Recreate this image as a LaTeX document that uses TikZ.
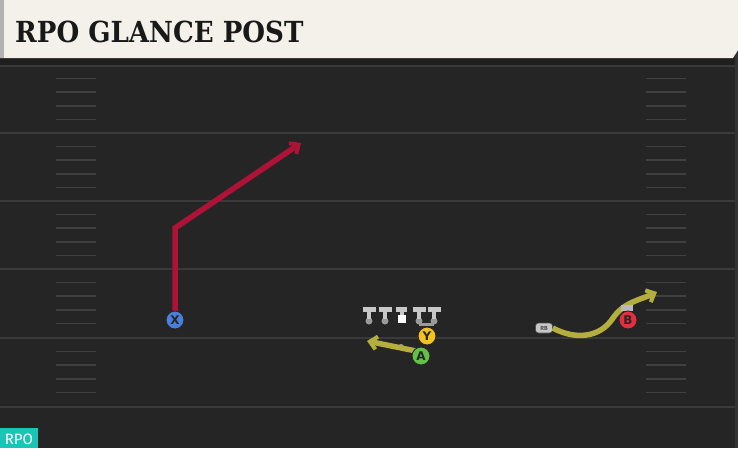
\documentclass[tikz,border=0pt]{standalone}
\usepackage{fontspec}
\usetikzlibrary{arrows.meta}
\newfontfamily\titlefont{DejaVu Serif Condensed}
\newfontfamily\labelfont{Fira Sans}
\newfontfamily\playerfont{DejaVu Sans}
\definecolor{fieldbg}{HTML}{252525}
\definecolor{yardline}{HTML}{3A3A3A}
\definecolor{hashline}{HTML}{404040}
\definecolor{cream}{HTML}{F4F1EA}
\definecolor{routered}{HTML}{AE1236}
\definecolor{routeyel}{HTML}{B3AE3E}
\definecolor{pblue}{HTML}{4A80DA}
\definecolor{pyel}{HTML}{F2C21E}
\definecolor{pgreen}{HTML}{62C144}
\definecolor{pred}{HTML}{E2303E}
\definecolor{tagteal}{HTML}{19C5B5}
\definecolor{lineman}{HTML}{C8C8C8}
\definecolor{linedark}{HTML}{9A9A9A}
\tikzset{
  x=1pt, y=-1pt,
  player/.style={circle, draw=black!85, line width=0.9pt, minimum size=18pt, inner sep=0pt,
    font=\playerfont\bfseries\fontsize{12}{12}\selectfont, text=black!85},
  route/.style={line width=5.5pt, line cap=butt, line join=miter,
    -{Straight Barb[length=7pt,width=13pt,line width=4pt]}},
  yardln/.style={draw=yardline, line width=2.5pt},
  hashln/.style={draw=hashline, line width=1.6pt},
  olbar/.style={draw=lineman, line width=5pt},
  olstem/.style={draw=lineman, line width=4pt},
  oldot/.style={circle, fill=linedark, inner sep=0pt, minimum size=7pt},
}
\begin{document}
\begin{tikzpicture}
\useasboundingbox (0,0) rectangle (738,448);
% field
\fill[fieldbg] (0,0) rectangle (738,448);
\fill[black!88] (0,58) rectangle (738,66);
\fill[black!80] (735,0) rectangle (738,448);
% yard lines
\foreach \yy in {133,201,269,338,407} {
  \draw[yardln] (0,\yy) -- (735,\yy);
}
\draw[draw=yardline, line width=1.5pt] (0,66) -- (735,66);
% hash marks
\foreach \base in {65,133,201,269,338} {
  \foreach \k in {1,2,3,4} {
    \draw[hashln] (56,{\base+13.6*\k}) -- (96,{\base+13.6*\k});
    \draw[hashln] (646,{\base+13.6*\k}) -- (686,{\base+13.6*\k});
  }
}
% header
\fill[cream] (0,0) -- (738,0) -- (738,50) -- (733,58) -- (0,58) -- cycle;
\fill[black!30] (0,0) rectangle (4,58);
\node[anchor=west, inner sep=0pt, text=black!90] (title) at (15,32)
  {\titlefont\bfseries\fontsize{29}{29}\selectfont RPO GLANCE POST};
% RPO tag
\fill[tagteal] (0,428) rectangle (38,448);
\node[text=white, inner sep=0pt] (tag) at (19,439) {\labelfont\fontsize{15}{15}\selectfont RPO};
% offensive line
\foreach \xx/\nm in {369/lt,385/lg,419/rg,434/rt} {
  \node[oldot] (\nm) at (\xx,321) {};
  \draw[olstem] (\xx,309) -- (\xx,319);
  \draw[olbar] (\xx-6.5,309.5) -- (\xx+6.5,309.5);
}
\draw[olstem] (401.5,309) -- (401.5,315);
\draw[olbar] (396,309) -- (407,309);
\node[fill=white, minimum size=8pt, inner sep=0pt] (c) at (402,319) {};
\draw[draw=linedark, line width=3pt] (rg.south) -- (rt.south);
% QB dot
\node[circle, fill=linedark, inner sep=0pt, minimum size=6pt] (qb) at (401,347) {};
% X route
\coordinate (xbreak) at (175,228);
\coordinate (xend) at (301,143);
\draw[route, draw=routered] (175,312) -- (xbreak) -- (xend);
\node[player, fill=pblue] (X) at (175,320) {X};
% A route
\coordinate (aend) at (367,341);
\draw[route, draw=routeyel] (416,351) -- (aend);
\node[player, fill=pyel] (Y) at (427,336) {Y};
\node[player, fill=pgreen] (A) at (421,356) {A};
% RB and B route
\node[fill=lineman, draw=gray!60!black, line width=0.6pt, rounded corners=3pt,
  minimum width=17pt, minimum height=10pt, inner sep=0pt,
  font=\labelfont\bfseries\fontsize{6}{6}\selectfont, text=black!70] (rb) at (544,328) {RB};
\coordinate (bend) at (657,292);
\draw[route, draw=routeyel] (rb.east) .. controls (575,340) and (600,338) .. (613,318)
  .. controls (624,302) and (640,300) .. (bend);
\fill[gray!55] (621,305) rectangle (633,311);
\node[player, fill=pred] (B) at (628,320) {B};
\end{tikzpicture}
\end{document}
